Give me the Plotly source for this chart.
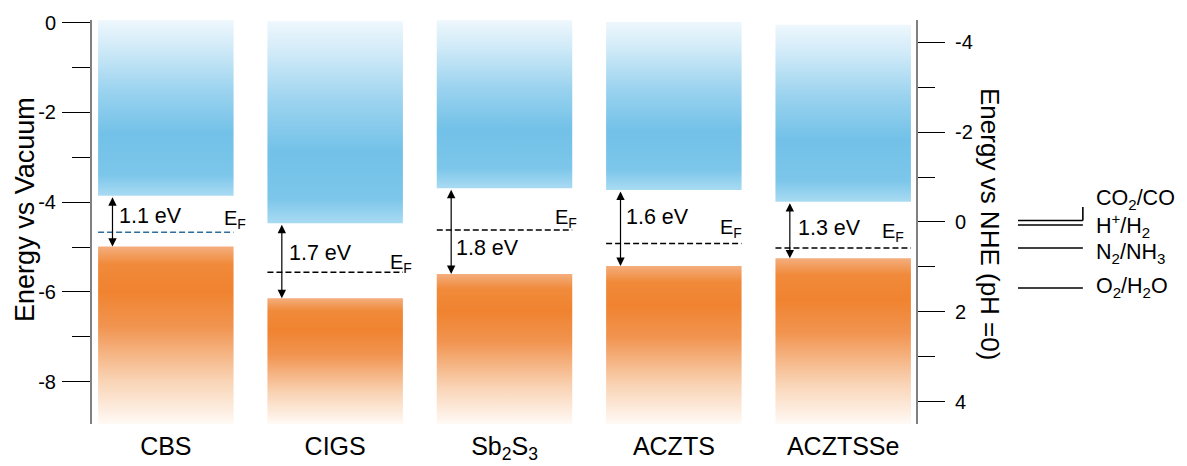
import plotly.graph_objects as go

# ---------------- data ----------------
materials = ["CBS", "CIGS", "Sb<sub>2</sub>S<sub>3</sub>", "ACZTS", "ACZTSSe"]
cb_top = [0.05, 0.03, 0.05, 0.01, -0.05]          # top of conduction-band block (eV vs vacuum)
cbm = [-3.86, -4.47, -3.69, -3.73, -3.99]         # conduction band minimum
vbm = [-4.99, -6.14, -5.60, -5.42, -5.25]         # valence band maximum
vb_bottom = [-8.95, -8.95, -8.95, -8.95, -8.95]   # bottom of valence-band block
fermi = [-4.67, -5.56, -4.62, -4.92, -5.02]       # Fermi level
gap_labels = ["1.1 eV", "1.7 eV", "1.8 eV", "1.6 eV", "1.3 eV"]

redox_names = ["CO<sub>2</sub>/CO", "H<sup>+</sup>/H<sub>2</sub>", "N<sub>2</sub>/NH<sub>3</sub>", "O<sub>2</sub>/H<sub>2</sub>O"]
redox_nhe = [-0.03, 0.07, 0.58, 1.47]             # potentials vs NHE (as drawn)
NHE_OFFSET = 4.44

vac_ticks = [0, -2, -4, -6, -8]
nhe_ticks = [-4, -2, 0, 2, 4]

# ---------------- layout helpers (positions / styles) ----------------
half_w = 0.4
arrow_off = 0.085
gap_label_pos = [(-0.286, -4.31), (-0.286, -5.13), (-0.298, -5.02), (-0.292, -4.33), (-0.277, -4.58)]
ef_label_pos = [(0.334, -4.38), (0.314, -5.36), (0.285, -4.36), (0.261, -4.59), (0.218, -4.67)]
ef_colors = ["#2f6e9c", "black", "black", "black", "black"]
redox_label_nhe = [-0.50, 0.07, 0.70, 1.47]

blue_scale = [[0.0, "#a9dbf2"], [0.12, "#7cc6ea"], [0.35, "#72c1e8"], [0.6, "#9bd3ef"], [0.85, "#d2ebf8"], [1.0, "#eef7fd"]]
orange_scale = [[0.0, "#fffaf6"], [0.25, "#f9d3b4"], [0.55, "#f19450"], [0.75, "#f08330"], [0.9, "#f08a3a"], [1.0, "#f4ae7e"]]

y_lo, y_hi = -8.94, 0.056

fig = go.Figure()

for i, name in enumerate(materials):
    xl, xr = i - half_w, i + half_w
    # conduction band
    fig.add_trace(go.Scatter(
        x=[xl, xr, xr, xl, xl], y=[cbm[i], cbm[i], cb_top[i], cb_top[i], cbm[i]],
        mode="lines", line=dict(width=0), fill="toself",
        fillgradient=dict(type="vertical", colorscale=blue_scale),
        hoverinfo="skip", showlegend=False))
    # valence band
    fig.add_trace(go.Scatter(
        x=[xl, xr, xr, xl, xl], y=[vb_bottom[i], vb_bottom[i], vbm[i], vbm[i], vb_bottom[i]],
        mode="lines", line=dict(width=0), fill="toself",
        fillgradient=dict(type="vertical", colorscale=orange_scale),
        hoverinfo="skip", showlegend=False))
    # Fermi level
    fig.add_trace(go.Scatter(
        x=[xl, xr], y=[fermi[i], fermi[i]], mode="lines",
        line=dict(color=ef_colors[i], width=1.5, dash="6px,3px"),
        hoverinfo="skip", showlegend=False))
    # band gap arrow
    fig.add_annotation(
        x=i - half_w + arrow_off, y=vbm[i], ax=i - half_w + arrow_off, ay=cbm[i],
        xref="x", yref="y", axref="x", ayref="y", text="", showarrow=True,
        arrowhead=2, startarrowhead=2, arrowside="end+start",
        arrowsize=1.4, startarrowsize=1.4, arrowwidth=1.2, arrowcolor="black",
        standoff=0, startstandoff=0)
    # band gap label
    gx, gy = gap_label_pos[i]
    fig.add_annotation(x=i + gx, y=gy, xref="x", yref="y", text=gap_labels[i],
                       showarrow=False, xanchor="left", yanchor="middle",
                       font=dict(size=21.5, color="black"))
    # E_F label
    ex, ey = ef_label_pos[i]
    fig.add_annotation(x=i + ex, y=ey, xref="x", yref="y", text="E<sub>F</sub>",
                       showarrow=False, xanchor="left", yanchor="middle",
                       font=dict(size=20, color="black"))

# invisible trace to activate the NHE axis
fig.add_trace(go.Scatter(x=[0], y=[0], yaxis="y2", mode="markers",
                         marker=dict(opacity=0), hoverinfo="skip", showlegend=False))

# redox potential lines (outside plot on the right)
for k, (nm, v) in enumerate(zip(redox_names, redox_nhe)):
    fig.add_shape(type="line", xref="paper", yref="y2", x0=1.1238, x1=1.2025, y0=v, y1=v,
                  line=dict(color="black", width=1.6))
    fig.add_annotation(x=1.2155, y=redox_label_nhe[k], xref="paper", yref="y2", text=nm,
                       showarrow=False, xanchor="left", yanchor="middle",
                       font=dict(size=21.5, color="black"))
# elbow connecting CO2/CO line to its label
fig.add_shape(type="line", xref="paper", yref="y2", x0=1.2025, x1=1.2025,
              y0=redox_nhe[0], y1=redox_label_nhe[0] + 0.17,
              line=dict(color="black", width=1.6))

font_family = "Liberation Sans, Arial, sans-serif"

fig.update_layout(
    width=1187, height=466,
    margin=dict(l=92, r=271, t=20, b=42, autoexpand=False),
    paper_bgcolor="white", plot_bgcolor="white",
    font=dict(family=font_family, color="black"),
    xaxis=dict(range=[-0.436, 4.43], showgrid=False, zeroline=False, showline=False,
               automargin=False,
               tickvals=list(range(len(materials))), ticktext=materials, ticks="",
               tickfont=dict(size=25), ticklabelstandoff=5),
    yaxis=dict(range=[y_lo, y_hi], showgrid=False, zeroline=False, showline=True,
               automargin=False,
               linecolor="#808080", linewidth=2, ticks="outside", ticklen=28,
               tickwidth=1.3, tickcolor="black", tickvals=vac_ticks,
               ticktext=[str(t) for t in vac_ticks], tickfont=dict(size=20),
               ticklabelstandoff=2,
               minor=dict(dtick=1, tick0=0, ticks="outside", ticklen=18,
                          tickwidth=1.3, tickcolor="black")),
    yaxis2=dict(overlaying="y", side="right",
                automargin=False,
                range=[-y_lo - NHE_OFFSET, -y_hi - NHE_OFFSET],
                showgrid=False, zeroline=False, showline=True,
                linecolor="#808080", linewidth=2, ticks="outside", ticklen=27,
                tickwidth=1.3, tickcolor="black", tickvals=nhe_ticks,
                ticktext=[str(t) for t in nhe_ticks], tickfont=dict(size=20),
                ticklabelstandoff=6,
                minor=dict(dtick=1, tick0=0, ticks="outside", ticklen=17,
                           tickwidth=1.3, tickcolor="black")),
)

fig.add_annotation(x=-0.0815, y=0.532, xref="paper", yref="paper", text="Energy vs Vacuum",
                   showarrow=False, textangle=-90, font=dict(size=27),
                   xanchor="center", yanchor="middle")
fig.add_annotation(x=1.0898, y=0.495, xref="paper", yref="paper", text="Energy vs NHE (pH =0)",
                   showarrow=False, textangle=90, font=dict(size=26),
                   xanchor="center", yanchor="middle")

fig.write_html("out.html", config={"displayModeBar": False},
               post_script="document.body.style.margin='0';document.body.style.overflow='hidden';")
